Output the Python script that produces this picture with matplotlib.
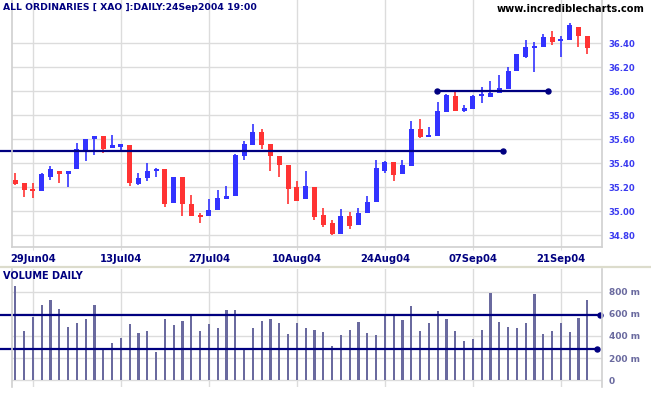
import pandas as pd
import matplotlib.pyplot as plt
from matplotlib.lines import Line2D

# daily candles, 25Jun04 .. 24Sep04
dates = pd.bdate_range('2004-06-25', '2004-09-24')
opens = [35.26, 35.24, 35.19, 35.17, 35.29, 35.34, 35.31, 35.35, 35.51, 35.60,
         35.625, 35.53, 35.54, 35.55, 35.23, 35.275, 35.34, 35.35, 35.07, 35.29,
         35.06, 34.97, 34.96, 35.01, 35.10, 35.13, 35.46, 35.555, 35.66, 35.56,
         35.46, 35.39, 35.20, 35.10, 35.20, 34.97, 34.90, 34.81, 34.96, 34.89,
         34.99, 35.08, 35.34, 35.41, 35.31, 35.38, 35.69, 35.62, 35.63, 35.825,
         35.96, 35.84, 35.855, 35.96, 35.95, 35.99, 36.02, 36.17, 36.29, 36.36,
         36.37, 36.45, 36.42, 36.43, 36.54, 36.46]
highs = [35.32, 35.24, 35.24, 35.32, 35.38, 35.34, 35.34, 35.57, 35.60, 35.625,
         35.625, 35.64, 35.56, 35.55, 35.32, 35.40, 35.36, 35.35, 35.29, 35.29,
         35.14, 34.99, 35.10, 35.18, 35.21, 35.48, 35.59, 35.73, 35.69, 35.56,
         35.46, 35.39, 35.25, 35.34, 35.20, 35.03, 34.93, 35.02, 34.995, 35.03,
         35.13, 35.43, 35.42, 35.41, 35.43, 35.75, 35.77, 35.70, 35.91, 35.975,
         36.00, 35.89, 35.97, 36.04, 36.09, 36.14, 36.20, 36.31, 36.43, 36.41,
         36.48, 36.50, 36.46, 36.57, 36.54, 36.46]
lows = [35.22, 35.12, 35.11, 35.17, 35.26, 35.24, 35.20, 35.35, 35.42, 35.47,
        35.49, 35.53, 35.50, 35.21, 35.22, 35.25, 35.29, 35.04, 35.07, 34.96,
        34.96, 34.90, 34.96, 35.01, 35.10, 35.13, 35.43, 35.555, 35.52, 35.34,
        35.29, 35.06, 35.09, 35.10, 34.93, 34.87, 34.80, 34.81, 34.85, 34.89,
        34.99, 35.08, 35.32, 35.25, 35.31, 35.38, 35.61, 35.62, 35.63, 35.825,
        35.84, 35.825, 35.855, 35.90, 35.95, 35.99, 36.02, 36.17, 36.275, 36.16,
        36.37, 36.385, 36.29, 36.43, 36.37, 36.31]
closes = [35.23, 35.18, 35.17, 35.31, 35.35, 35.31, 35.34, 35.52, 35.60, 35.625,
          35.52, 35.55, 35.56, 35.24, 35.28, 35.34, 35.35, 35.06, 35.29, 35.06,
          34.96, 34.95, 35.01, 35.11, 35.13, 35.47, 35.56, 35.66, 35.555, 35.46,
          35.39, 35.19, 35.09, 35.21, 34.95, 34.89, 34.81, 34.96, 34.88, 34.99,
          35.08, 35.36, 35.41, 35.30, 35.39, 35.69, 35.62, 35.64, 35.84, 35.97,
          35.84, 35.86, 35.96, 35.97, 35.99, 36.03, 36.17, 36.31, 36.37, 36.37,
          36.45, 36.41, 36.44, 36.55, 36.46, 36.36]
# volume in millions
volumes = [854, 445, 575, 680, 728, 647, 484, 520, 556, 683,
           295, 340, 385, 508, 427, 448, 256, 556, 499, 535,
           602, 448, 508, 475, 638, 638, 283, 475, 535, 556,
           520, 418, 520, 475, 457, 436, 313, 409, 457, 529,
           430, 412, 593, 593, 547, 674, 448, 517, 629, 553,
           448, 358, 376, 457, 791, 529, 484, 475, 520, 782,
           418, 448, 520, 439, 566, 728]

tick_labels = ['29Jun04', '13Jul04', '27Jul04', '10Aug04', '24Aug04', '07Sep04', '21Sep04']
price_ticks = [34.80, 35.00, 35.20, 35.40, 35.60, 35.80, 36.00, 36.20, 36.40]
vol_ticks = [0, 200, 400, 600, 800]

# trend lines drawn on the chart: (level, start, end)
support_line = (35.50, -1.74, 55.4)
resist_line = (36.00, 47.9, 60.5)
vol_line_hi = (593, -1.74, 66.45)
vol_line_lo = (286, -1.74, 66.1)

BLUE = '#3333ff'
RED = '#ff3333'
NAVY = '#000080'
VOLC = '#6a6a9f'
GRID = '#dcdcdc'

W, H = 651, 395
fig = plt.figure(figsize=(W / 100, H / 100), dpi=100)
ax = fig.add_axes([12.3 / W, (H - 246.7) / H, 589.4 / W, 246.7 / H])
vax = fig.add_axes([12.3 / W, (H - 386.7) / H, 589.4 / W, 117.4 / H])

x = list(range(len(dates)))
xlim = (-0.34, 66.64)

# candles
for i in x:
    o, h, l, c = opens[i], highs[i], lows[i], closes[i]
    col = BLUE if c >= o else RED
    ax.vlines(i, l, h, color=col, linewidth=1.2)
    body = max(abs(c - o), 0.014)
    ax.bar(i, body, bottom=min(o, c), width=0.58, color=col, linewidth=0)

ax.set_xlim(*xlim)
ax.set_ylim(34.705, 36.761)
ax.set_yticks(price_ticks)
ax.set_yticklabels(['%.2f' % p for p in price_ticks])
ax.yaxis.tick_right()
ax.tick_params(axis='y', length=0, pad=5, labelsize=6.1, labelcolor='#3a3af0')

pos = [list(dates.strftime('%d%b%y')).index(t) for t in tick_labels]
ax.set_xticks(pos)
ax.set_xticklabels(tick_labels)
ax.tick_params(axis='x', length=2, color=GRID, pad=3, labelsize=7.2, labelcolor=NAVY)
for lab in ax.get_xticklabels() + ax.get_yticklabels():
    lab.set_fontweight('bold')
ax.grid(True, color=GRID, linewidth=1)
ax.set_axisbelow(True)
ax.spines['top'].set_visible(False)
for s in ['left', 'right', 'bottom']:
    ax.spines[s].set_color('#d0d0d0')
    ax.spines[s].set_linewidth(1.2)

lvl, a, b = support_line
ax.add_line(Line2D([a, b], [lvl, lvl], color=NAVY, linewidth=1.6, clip_on=False))
ax.plot([b], [lvl], 'o', color=NAVY, markersize=3.6, clip_on=False)
lvl, a, b = resist_line
ax.plot([a, b], [lvl, lvl], '-o', color=NAVY, linewidth=1.6, markersize=3.6)

ax.text(-1.4, 36.735, 'ALL ORDINARIES [ XAO ]:DAILY:24Sep2004 19:00', color=NAVY,
        fontsize=6.7, fontweight='bold', va='top', ha='left', clip_on=False)
fig.text(645 / W, 1 - 9 / H, 'www.incrediblecharts.com', color='black',
         fontsize=7.1, fontweight='bold', va='center', ha='right')

# volume panel
vax.bar(x, volumes, width=0.25, color=VOLC, linewidth=0)
vax.set_xlim(*xlim)
vax.set_ylim(-58, 1001)
vax.set_yticks(vol_ticks)
vax.set_yticklabels(['%d m' % v if v else '0' for v in vol_ticks])
vax.yaxis.tick_right()
vax.tick_params(axis='y', length=0, pad=5, labelsize=6.5, labelcolor=VOLC)
vax.set_xticks(pos)
vax.tick_params(axis='x', length=0, labelbottom=False)
for lab in vax.get_yticklabels():
    lab.set_fontweight('bold')
vax.grid(True, color=GRID, linewidth=1)
vax.set_axisbelow(True)
vax.spines['top'].set_visible(False)
vax.spines['bottom'].set_visible(False)
for s in ['left', 'right']:
    vax.spines[s].set_color('#d0d0d0')
    vax.spines[s].set_linewidth(1.2)

for lvl, a, b in [vol_line_hi, vol_line_lo]:
    vax.add_line(Line2D([a, b], [lvl, lvl], color=NAVY, linewidth=1.6, clip_on=False))
    vax.plot([b], [lvl], 'o', color=NAVY, markersize=3.6, clip_on=False)

vax.text(-1.4, 985, 'VOLUME DAILY', color=NAVY, fontsize=7.0, fontweight='bold',
         va='top', ha='left', clip_on=False)

# separator band between panels
fig.add_artist(Line2D([0, 1], [1 - 267 / H, 1 - 267 / H], color='#dcdccc', linewidth=1.6))

fig.savefig('out.png', dpi=100)
